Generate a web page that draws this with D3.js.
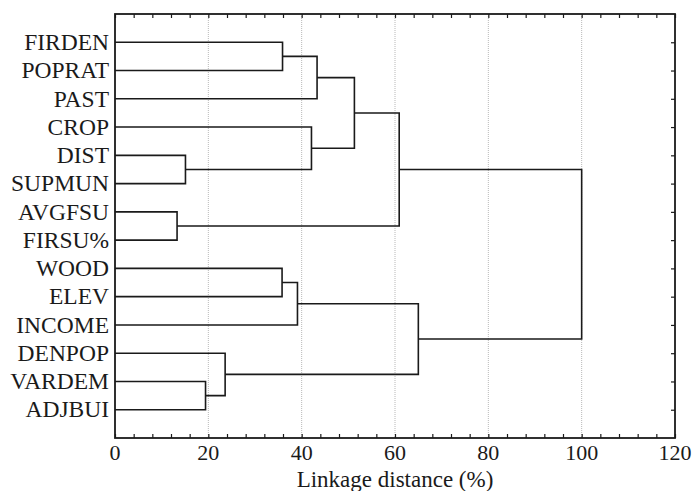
<!DOCTYPE html>
<html>
<head>
<meta charset="utf-8">
<script src="https://cdn.jsdelivr.net/npm/d3@7"></script>
<style>
  body { margin: 0; background: #fff; }
  svg { display: block; }
</style>
</head>
<body>
<div id="chart"></div>
<script>
var width = 695,
	height = 491,
	margin = {top: 14, right: 20, bottom: 53, left: 115};

// leaf order, top to bottom
var leaves = ["FIRDEN", "POPRAT", "PAST", "CROP", "DIST", "SUPMUN", "AVGFSU",
	"FIRSU%", "WOOD", "ELEV", "INCOME", "DENPOP", "VARDEM", "ADJBUI"];

// merges: node ids 0-13 are leaves, each merge makes node 14, 15, ...
var mergeLeft   = [6,    4,    12,   11,   8,    0,    18,   3,    19,   22,   23,   20,   24];
var mergeRight  = [7,    5,    13,   16,   9,    1,    10,   15,   2,    21,   14,   17,   25];
var mergeHeight = [13.3, 15.1, 19.4, 23.6, 35.8, 35.9, 39.1, 42.1, 43.3, 51.3, 60.9, 65.0, 100];

var xTicks = [0, 20, 40, 60, 80, 100, 120];
var xLabel = "Linkage distance (%)";

var font = "'Liberation Serif', 'Times New Roman', serif";
var ink = "#1a1a1a";

var svg = d3.select("#chart").append("svg")
	.attr("width", width)
	.attr("height", height);

var x = d3.scaleLinear()
	.domain([0, 120])
	.range([margin.left, width - margin.right]);

var y = d3.scalePoint()
	.domain(leaves)
	.range([margin.top, height - margin.bottom])
	.padding(1);

// grid lines
svg.append("g")
	.selectAll("line")
	.data(xTicks.filter(function(d){ return d > 0 && d < 120; }))
	.enter().append("line")
		.attr("x1", function(d){ return x(d); })
		.attr("x2", function(d){ return x(d); })
		.attr("y1", margin.top)
		.attr("y2", height - margin.bottom)
		.attr("stroke", "#b8b8b8")
		.attr("stroke-width", 1)
		.attr("stroke-dasharray", "1,1");

// node positions
var nodeX = [], nodeY = [];
leaves.forEach(function(name, i){
	nodeX[i] = 0;
	nodeY[i] = y(name);
});
mergeHeight.forEach(function(h, k){
	var id = leaves.length + k;
	nodeX[id] = h;
	nodeY[id] = (nodeY[mergeLeft[k]] + nodeY[mergeRight[k]]) / 2;
});

var links = mergeHeight.map(function(h, k){
	return {a: mergeLeft[k], b: mergeRight[k], h: h};
});

svg.append("g")
	.selectAll("path")
	.data(links)
	.enter().append("path")
		.attr("d", function(d){
			return "M" + x(nodeX[d.a]) + "," + nodeY[d.a]
				+ "H" + x(d.h)
				+ "V" + nodeY[d.b]
				+ "H" + x(nodeX[d.b]);
		})
		.attr("fill", "none")
		.attr("stroke", ink)
		.attr("stroke-width", 1.6);

// axes
var bottomAxis = svg.append("g")
	.attr("transform", "translate(0," + (height - margin.bottom) + ")")
	.call(d3.axisBottom(x).tickValues(d3.range(0, 121, 4)).tickSize(-4).tickFormat(""));
bottomAxis.select(".domain").remove();

var topAxis = svg.append("g")
	.attr("transform", "translate(0," + margin.top + ")")
	.call(d3.axisTop(x).tickValues(d3.range(0, 121, 4)).tickSize(-4).tickFormat(""));
topAxis.select(".domain").remove();

var rightAxis = svg.append("g")
	.attr("transform", "translate(" + (width - margin.right) + ",0)")
	.call(d3.axisRight(y).tickSize(-4).tickFormat(""));
rightAxis.select(".domain").remove();

svg.selectAll(".tick line").attr("stroke", ink).attr("stroke-width", 1.2);

// frame
svg.append("rect")
	.attr("x", margin.left)
	.attr("y", margin.top)
	.attr("width", width - margin.left - margin.right)
	.attr("height", height - margin.top - margin.bottom)
	.attr("fill", "none")
	.attr("stroke", ink)
	.attr("stroke-width", 1.8);

// leaf labels
svg.append("g")
	.selectAll("text")
	.data(leaves)
	.enter().append("text")
		.attr("x", margin.left - 6)
		.attr("y", function(d){ return y(d); })
		.attr("dy", "0.33em")
		.attr("text-anchor", "end")
		.attr("font-family", font)
		.attr("font-size", "23.5px")
		.attr("fill", ink)
		.text(function(d){ return d; });

// tick labels
svg.append("g")
	.selectAll("text")
	.data(xTicks)
	.enter().append("text")
		.attr("x", function(d){ return x(d); })
		.attr("y", height - margin.bottom + 22)
		.attr("text-anchor", "middle")
		.attr("font-family", font)
		.attr("font-size", "22px")
		.attr("fill", ink)
		.text(function(d){ return d; });

svg.append("text")
	.attr("x", (x(0) + x(120)) / 2)
	.attr("y", height - 4)
	.attr("text-anchor", "middle")
	.attr("font-family", font)
	.attr("font-size", "23px")
	.attr("fill", ink)
	.text(xLabel);
</script>
</body>
</html>
